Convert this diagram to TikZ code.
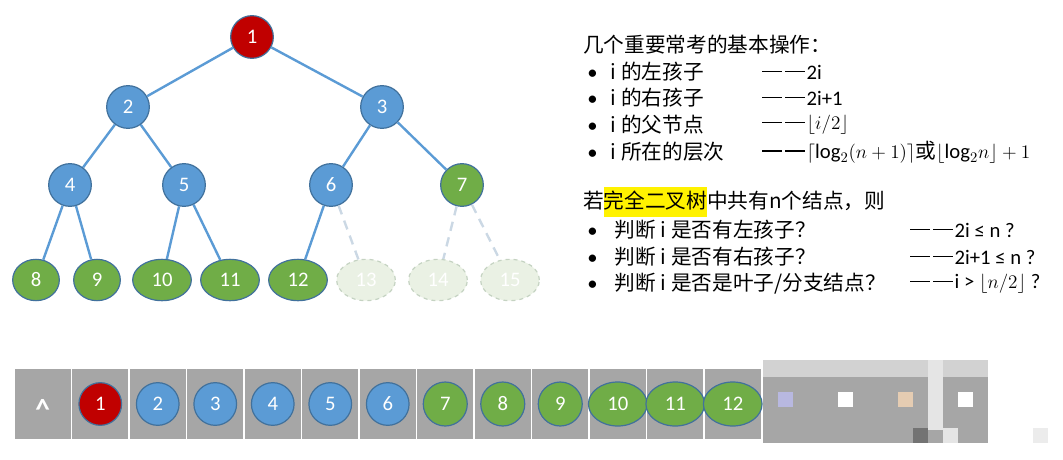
\documentclass[tikz,border=0pt]{standalone}
\usepackage{fontspec}
\usetikzlibrary{shapes.geometric}
\setmainfont{Carlito}
\newfontfamily\cjk{Noto Sans CJK SC}
\newfontfamily\lat{Carlito}
\begin{document}
\begin{tikzpicture}[x=0.75pt,y=-0.75pt,
  base/.style={draw=outl,line width=0.9pt,text=white,font=\fontsize{15.5}{15.5}\selectfont,inner sep=0pt},
  rn/.style={base,circle,fill=rd,minimum size=32pt},
  bn/.style={base,circle,fill=bl,minimum size=32pt},
  gn/.style={base,circle,fill=gr,minimum size=32pt},
  gl/.style={base,ellipse,fill=gr,minimum width=44pt,minimum height=31pt},
  gs/.style={base,ellipse,fill=gr,minimum width=35pt,minimum height=31pt},
  ghost/.style={base,ellipse,draw=ghostd,dashed,fill=ghostf,minimum width=44pt,minimum height=31pt},
  ed/.style={draw=bl,line width=1.8pt},
  ged/.style={draw=ghostl,line width=1.8pt,dash pattern=on 7pt off 5pt},
  cell/.style={draw=white,line width=1pt,fill=cellg,minimum width=43.1pt,minimum height=54pt,inner sep=0pt},
  txt/.style={anchor=west,font=\cjk\fontsize{15.5}{15.5}\selectfont,inner sep=0pt}]
\definecolor{rd}{HTML}{C00000}\definecolor{bl}{HTML}{5B9BD5}\definecolor{gr}{HTML}{70AD47}
\definecolor{outl}{HTML}{41719C}\definecolor{ghostd}{HTML}{C5D3C2}\definecolor{ghostf}{HTML}{EAF1E4}
\definecolor{ghostl}{HTML}{CBD8E4}\definecolor{cellg}{HTML}{A6A6A6}
\newcommand{\dd}{\rule[0.32em]{0.95em}{0.07em}\hspace{0.15em}\rule[0.32em]{0.95em}{0.07em}\hspace{0.1em}}
\newcommand{\bu}{{\lat\textbullet}}
\useasboundingbox (0,0) rectangle (1063,460);
% tree
\node[rn] (n1) at (252,37) {1};
\node[bn] (n2) at (128,107) {2};
\node[bn] (n3) at (382,107) {3};
\node[bn] (n4) at (70,185) {4};
\node[bn] (n5) at (184,185) {5};
\node[bn] (n6) at (331,185) {6};
\node[gn] (n7) at (462,185) {7};
\node[gs] (n8) at (36,280) {8};
\node[gs] (n9) at (97,280) {9};
\node[gl] (n10) at (162,280) {10};
\node[gl] (n11) at (230,280) {11};
\node[gl] (n12) at (298,280) {12};
\node[ghost] (n13) at (366,280) {13};
\node[ghost] (n14) at (438,280) {14};
\node[ghost] (n15) at (510,280) {15};
\draw[ed] (n1) -- (n2); \draw[ed] (n1) -- (n3);
\draw[ed] (n2) -- (n4); \draw[ed] (n2) -- (n5);
\draw[ed] (n3) -- (n6); \draw[ed] (n3) -- (n7);
\draw[ed] (n4) -- (n8); \draw[ed] (n4) -- (n9);
\draw[ed] (n5) -- (n10); \draw[ed] (n5) -- (n11);
\draw[ed] (n6) -- (n12);
\draw[ged] (n6) -- (n13); \draw[ged] (n7) -- (n14); \draw[ged] (n7) -- (n15);
% array
\foreach \i in {0,...,12} \node[cell] (c\i) at ({42.75+57.5*\i},404) {};
\node[text=white,font=\bfseries\fontsize{22}{22}\selectfont] (hat) at ([yshift=-4pt]c0) {\textasciicircum};
\node[rn] (a1) at (c1) {1};
\node[bn] (a2) at (c2) {2};
\node[bn] (a3) at (c3) {3};
\node[bn] (a4) at (c4) {4};
\node[bn] (a5) at (c5) {5};
\node[bn] (a6) at (c6) {6};
\node[gn,minimum size=33pt] (a7) at (c7) {7};
\node[gn,minimum size=33pt] (a8) at (c8) {8};
\node[gn,minimum size=33pt] (a9) at (c9) {9};
\node[gl,minimum width=44pt,minimum height=33pt] (a10) at (c10) {10};
\node[gl,minimum width=44pt,minimum height=33pt] (a11) at (c11) {11};
\node[gl,minimum width=44pt,minimum height=33pt] (a12) at (c12) {12};
% pixelated region
\fill[gray!35] (763,360) rectangle (988,377);
\fill[cellg] (763,377) rectangle (988,443);
\fill[gray!20] (928,360) rectangle (943,430);
\fill[gray!60!blue!40] (778,392) rectangle (793,407);
\fill[white] (838,392) rectangle (853,407);
\fill[brown!40] (898,392) rectangle (913,407);
\fill[white] (958,392) rectangle (973,407);
\fill[gray!70] (838,428) rectangle (898,443);
\fill[gray!90!black] (913,428) rectangle (928,443);
\fill[gray!20] (943,428) rectangle (958,443);
\fill[gray!15] (1033,428) rectangle (1048,443);
% text
\node[txt] (t0) at (583,45) {几个重要常考的基本操作：};
\node[txt] (t1) at (587,72) {\bu\hspace{10pt}i 的左孩子};
\node[txt] (t2) at (587,98) {\bu\hspace{10pt}i 的右孩子};
\node[txt] (t3) at (587,125) {\bu\hspace{10pt}i 的父节点};
\node[txt] (t4) at (587,152) {\bu\hspace{10pt}i 所在的层次};
\node[txt] (r1) at (762,72) {\dd{\lat 2i}};
\node[txt] (r2) at (762,98) {\dd{\lat 2i+1}};
\node[txt] (r3) at (762,125) {\dd$\lfloor i/2\rfloor$};
\node[txt] (r4) at (762,152) {\dd$\lceil\textrm{log}_2(n+1)\rceil$或$\lfloor\textrm{log}_2 n\rfloor+1$};
\node[txt] (t5) at (583,202) {若\colorbox{yellow}{\rule[-4pt]{0pt}{16pt}\hspace{-3pt}完全二叉树\hspace{-3pt}}中共有n个结点，则};
\node[txt] (t6) at (587,230) {\bu\hspace{13pt}判断 i 是否有左孩子？};
\node[txt] (t7) at (587,257) {\bu\hspace{13pt}判断 i 是否有右孩子？};
\node[txt] (t8) at (587,284) {\bu\hspace{13pt}判断 i 是否是叶子/分支结点？};
\node[txt] (r6) at (910,230) {\dd{\lat 2i ≤ n ?}};
\node[txt] (r7) at (910,257) {\dd{\lat 2i+1 ≤ n ?}};
\node[txt] (r8) at (910,284) {\dd{\lat i > $\lfloor n/2\rfloor$ ?}};
\end{tikzpicture}
\end{document}
